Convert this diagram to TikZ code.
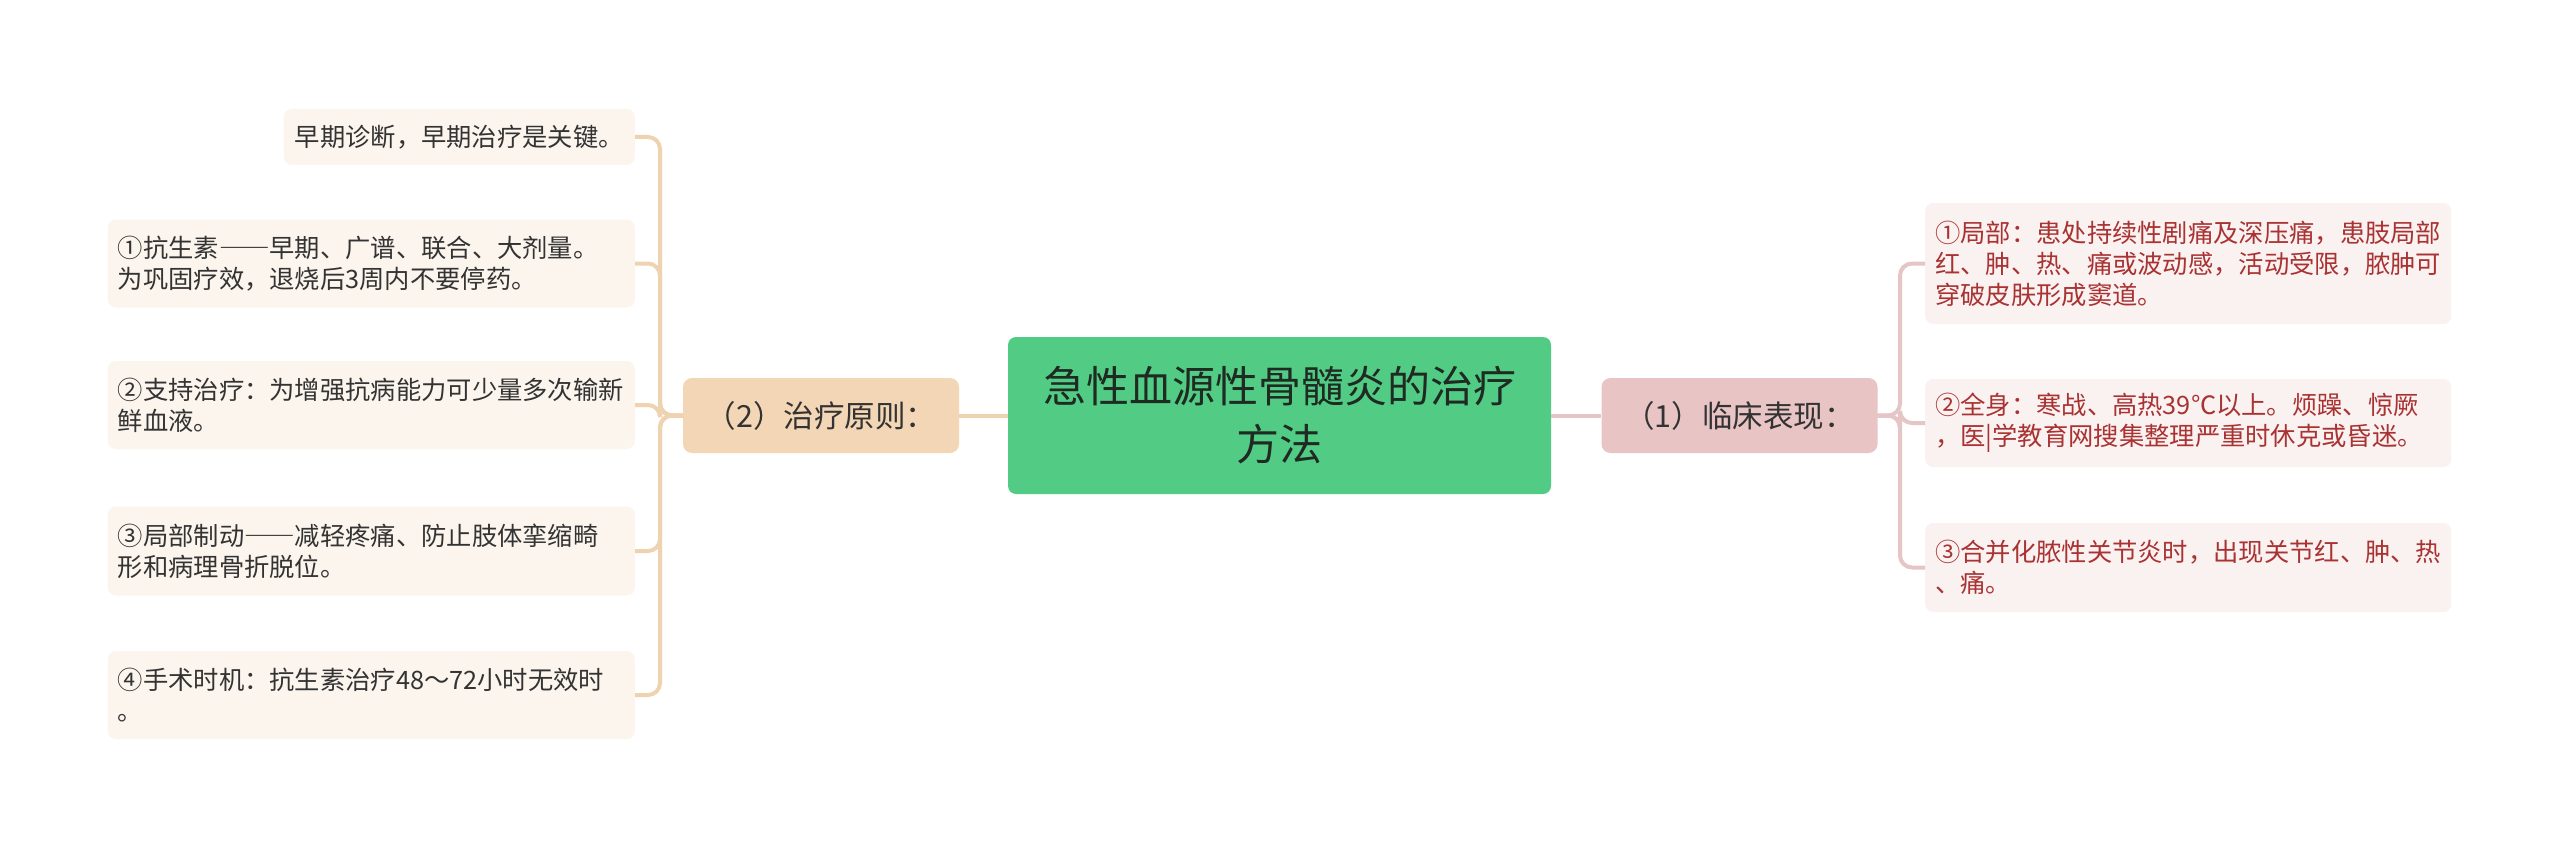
\documentclass[tikz,border=0pt]{standalone}
\usepackage{fontspec}
\setmainfont{Noto Sans CJK SC}
\newcommand{\fwdash}{{\addfontfeatures{RawFeature=+fwid}——}}
\definecolor{lfill}{HTML}{FCF5EE}
\definecolor{lconn}{HTML}{EFD3B1}
\definecolor{ptwofill}{HTML}{F3D6B5}
\definecolor{cfill}{HTML}{52CC84}
\definecolor{ponefill}{HTML}{E8C4C4}
\definecolor{rconn}{HTML}{E6C5C6}
\definecolor{rfill}{HTML}{FAF1F1}
\definecolor{rtext}{HTML}{A93232}
\definecolor{ltext}{HTML}{333333}
\definecolor{ctext}{HTML}{1E2A22}
\begin{document}
\begin{tikzpicture}[x=1pt,y=-1pt,
  leafbase/.style={draw=none, rounded corners=8pt, inner xsep=10pt, inner ysep=0pt,
    align=left, font=\fontsize{25.3}{31}\selectfont},
  leafL/.style={leafbase, fill=lfill, text=ltext, anchor=east, text width=507pt},
  leafR/.style={leafbase, fill=rfill, text=rtext, anchor=west, text width=506pt},
  topicbox/.style={draw=none, rounded corners=9pt, inner sep=0pt, align=center,
    minimum width=276pt, minimum height=75pt, text=ltext, font=\fontsize{30.5}{36}\selectfont},
  lline/.style={draw=lconn, line width=4pt, rounded corners=12pt},
  rline/.style={draw=rconn, line width=4pt, rounded corners=12pt}
]
\useasboundingbox[fill=white] (0,0) rectangle (2560,848);

% central
\node[fill=cfill, rounded corners=8pt, minimum width=543pt, minimum height=157pt,
  inner sep=0pt, align=center, text=ctext, font=\fontsize{43}{58}\selectfont]
  (c) at (1279.5,415.5) {急性血源性骨髓炎的治疗\\方法};

% main topics
\node[topicbox, fill=ptwofill] (p2) at (821,415.5) {（2）治疗原则：};
\node[topicbox, fill=ponefill] (p1) at (1739.5,415.5) {（1）临床表现：};

% left leaves
\node[leafL, text width=329pt, inner xsep=11pt, minimum height=56pt] (l0) at (635,137) {早期诊断，早期治疗是关键。};
\node[leafL, minimum height=88pt] (l1) at (635,263.5) {①抗生素\fwdash 早期、广谱、联合、大剂量。\\为巩固疗效，退烧后3周内不要停药。};
\node[leafL, minimum height=88pt] (l2) at (635,405) {②支持治疗：为增强抗病能力可少量多次输新\\鲜血液。};
\node[leafL, minimum height=89pt] (l3) at (635,551) {③局部制动\fwdash 减轻疼痛、防止肢体挛缩畸\\形和病理骨折脱位。};
\node[leafL, minimum height=88pt] (l4) at (635,695) {④手术时机：抗生素治疗48～72小时无效时\\。};

% right leaves
\node[leafR, minimum height=121pt] (r1) at (1925,263.5) {①局部：患处持续性剧痛及深压痛，患肢局部\\红、肿、热、痛或波动感，活动受限，脓肿可\\穿破皮肤形成窦道。};
\node[leafR, minimum height=88pt] (r2) at (1925,423) {②全身：寒战、高热39℃以上。烦躁、惊厥\\，医|学教育网搜集整理严重时休克或昏迷。};
\node[leafR, minimum height=89pt] (r3) at (1925,567.5) {③合并化脓性关节炎时，出现关节红、肿、热\\、痛。};

% junctions
\coordinate (lj) at (660,415.5);
\coordinate (rj) at (1900,415.5);

% connectors
\draw[lline] (c.west) -- (p2.east);
\draw[rline] (c.east) -- (p1.west);
\foreach \n in {l0,l1,l2,l3,l4}{
  \draw[lline] (p2.west) -- (lj) |- (\n.east);
}
\foreach \n in {r1,r2,r3}{
  \draw[rline] (p1.east) -- (rj) |- (\n.west);
}
\end{tikzpicture}
\end{document}
